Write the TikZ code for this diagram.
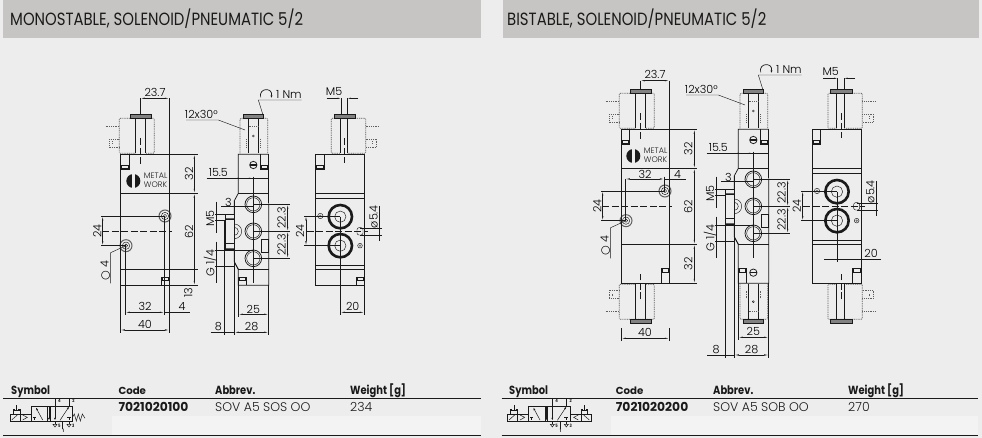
\documentclass[tikz,border=0pt]{standalone}
\usepackage{fontspec}
\setmainfont[FakeStretch=0.84]{Poppins}
\newfontfamily\futl{Poppins Light}
\newfontfamily\futw{Poppins}
\newfontfamily\dvs{DejaVu Sans}
\usetikzlibrary{arrows.meta}
\definecolor{bgc}{HTML}{EDEDED}
\definecolor{headc}{HTML}{C6C5C3}
\definecolor{bandc}{HTML}{F3F3F3}
\definecolor{ink}{HTML}{1A1A1A}
\tikzset{
 base/.style={x=1pt,y=-1pt},
 crop/.style={x=0.33333pt,y=-0.33333pt},
 body/.style={draw=ink,line width=0.75pt},
 thin line/.style={draw=ink,line width=0.45pt},
 dimarrow/.style={draw=ink,line width=0.45pt,{Latex[length=4.5pt,width=1.3pt]}-{Latex[length=4.5pt,width=1.3pt]}},
 onearrow/.style={draw=ink,line width=0.45pt,-{Latex[length=3.5pt,width=1.3pt]}},
 dotline/.style={draw=ink!70,line width=0.7pt,dash pattern=on 1pt off 0.8pt},
 chain/.style={draw=ink,line width=0.5pt,dash pattern=on 7pt off 2.5pt},
 dimtext/.style={font=\fontsize{11.2}{11}\futl,text=black,inner sep=0pt},
 headtext/.style={font=\fontsize{17.7}{18}\selectfont,text=ink,inner sep=0pt,anchor=base west},
 tabhead/.style={font=\fontsize{11.8}{12}\selectfont\bfseries,text=ink,inner sep=0pt,anchor=base west},
 codehead/.style={font=\fontsize{10.2}{11}\futw\bfseries,text=ink,inner sep=0pt,anchor=base west},
 tabcode/.style={font=\fontsize{12.3}{13}\futw\bfseries,text=ink,inner sep=0pt,anchor=base west},
 tabval/.style={font=\fontsize{12.5}{13}\futl,text=ink,inner sep=0pt,anchor=base west},
 symline/.style={draw=ink,line width=0.5pt},
 symtext/.style={font=\fontsize{4.5}{5}\selectfont\bfseries,text=ink,inner sep=0pt},
 symarrow/.style={draw=ink,line width=0.5pt,-{Latex[length=2.5pt,width=2pt]}},
}
\newcommand\notch[6]{%
 \draw[body] (#1,#3) -- (#1,#4) -- (#2,#4) -- (#2,#3);
 \fill[ink] (#1,#5) rectangle (#2,#6);
 \fill[bgc] (#1+5,#5+3) rectangle (#2-5,#6-3);}
\newcommand\solA{%
 \draw[dotline,rounded corners=1pt] (136,250) -- (88,250) -- (88,145) -- (193,145) -- (193,250) -- (166,250);
 \draw[body] (136,145) -- (136,250) (166,145) -- (166,250);
 \draw[fill=ink!55,draw=ink,line width=0.6pt] (120,133) rectangle (183,145);
 \draw[dotline] (47,168) -- (88,168);
 \draw[dotline] (88,207) -- (57,207) -- (57,232) -- (88,232);
 \draw[dotline] (66,214) -- (66,224);
 \draw[chain] (151,205) -- (151,282);}
\newcommand\solB{%
 \draw[dotline,rounded corners=1pt] (150,250) -- (150,145) -- (233,145) -- (233,250);
 \draw[body] (175,145) -- (175,250) (205,145) -- (205,250);
 \draw[fill=ink!55,draw=ink,line width=0.6pt] (160,132) rectangle (220,145);
 \draw[thin line] (190,198) circle (3);
 \draw[dotline] (170,208) -- (170,230) (212,208) -- (212,230);
 \draw[dotline] (176,170) -- (204,170);
 \draw[body] (190,285) circle (11);
 \fill[ink] (179,283) rectangle (201,287);}
\newcommand\solC{%
 \draw[dotline,rounded corners=1pt] (450,250) -- (424,250) -- (424,145) -- (527,145) -- (527,250) -- (473,250);
 \draw[body] (450,145) -- (450,250) (473,145) -- (473,250);
 \draw[fill=ink!55,draw=ink,line width=0.6pt] (432,132) rectangle (497,145);
 \draw[dotline] (527,168) -- (570,168);
 \draw[dotline] (527,207) -- (560,207) -- (560,232) -- (527,232);
 \draw[dotline] (548,214) -- (548,224);
 \draw[chain] (463,205) -- (463,280);}
\newcommand\mirrorY[1]{\begin{scope}[shift={(0,968)},yscale=-1]#1\end{scope}}
\newcommand\viewAcommon[1]{%
 \solA
 \draw[thin line] (151,#1) -- (151,133) (238,#1) -- (238,253);
 \draw[dimarrow] (151,#1) -- (238,#1);
 \node[dimtext] (a237) at (195,#1-18) {23.7};
 \fill[ink] (130,333) circle (21);
 \fill[bgc] (126.5,310) rectangle (133.5,356);
 \node[font=\fontsize{8}{8.7}\futl,text=ink,inner sep=0pt,align=left,anchor=west] (logo) at (161,331) {METAL\\WORK};
 \draw[draw=ink!70,line width=1pt] (225,438) circle (18);
 \draw[thin line] (225,438) circle (11);
 \draw[thin line] (225,438) circle (5);
 \draw[draw=ink!70,line width=1pt] (108,527) circle (18);
 \draw[thin line] (108,527) circle (11);
 \draw[thin line] (108,527) circle (5);
 \draw[chain] (37,484) -- (245,484);
 \draw[thin line] (33,438) -- (225,438) (33,527) -- (108,527);
 \draw[dimarrow] (38,438) -- (38,527);
 \node[dimtext,rotate=90] (a24) at (22,484) {24};
 \draw[thin line] (108,527) -- (62,548) -- (62,640);
 \node[dimtext,rotate=90] (a4) at (46,601) {{\dvs ○} 4};
}
\newcommand\viewBcommon{%
 \solB
 \draw[body] (236,253) -- (145,253) -- (145,370) -- (133,392) -- (133,576) -- (145,598);
 \draw[body] (236,253) -- (236,400);
 \draw[body] (145,370) -- (236,370) (145,598) -- (236,598);
 \draw[body] (190,403) circle (25) (190,484) circle (25) (190,565) circle (25);
 \draw[thin line] (190,403) circle (20) (190,484) circle (20) (190,565) circle (20);
 \draw[thin line] (133,462) arc (-90:90:22);
 \draw[thin line] (133,472) arc (-90:90:12);
 \draw[body,fill=bgc] (105,432) rectangle (133,540);
 \fill[ink] (105,445) rectangle (133,450) (105,535) rectangle (133,540);
 \draw[body] (105,520) -- (133,520) (105,432) -- (133,432);
 \draw[line width=1.3pt,draw=ink] (215,508) rectangle (235,547);
 \draw[thin line] (190,320) -- (190,640);
 \draw[thin line] (50,325) -- (235,325);
 \draw[dimarrow] (133,325) -- (190,325);
 \node[dimtext] (b155) at (85,309) {15.5};
 \draw[thin line] (93,410) -- (190,410);
 \node[dimtext] (b3) at (115,396) {3};
 \draw[thin line] (75,432) -- (133,432) (75,450) -- (105,450);
 \draw[thin line] (80,395) -- (80,490);
 \node[dimtext,rotate=90] (bm5) at (60,446) {M5};
 \draw[thin line] (75,540) -- (190,540) (75,590) -- (133,590);
 \draw[thin line] (80,515) -- (80,640);
 \node[dimtext,rotate=90] (bg14) at (60,580) {G 1/4};
 \draw[thin line] (190,403) -- (300,403) (190,484) -- (300,484) (190,565) -- (300,565);
 \draw[dimarrow] (293,403) -- (293,484);
 \draw[dimarrow] (293,484) -- (293,565);
 \node[dimtext,rotate=90] (b22a) at (275,444) {22.3};
 \node[dimtext,rotate=90] (b22b) at (275,525) {22.3};
 \draw[draw=ink,line width=0.7pt,-{Latex[length=3pt,width=2pt]}] (212,82) .. controls (205,52) and (250,52) .. (243,85);
 \node[dimtext,anchor=west] (bnm) at (258,72) {1 Nm};
 \draw[thin line] (218,132) -- (205,90) -- (335,90);
 \node[dimtext] (b12) at (34,133) {12x30°};
 \draw[thin line] (-12,150) -- (85,150) -- (165,180);
}
\newcommand\viewCcommon[2]{%
 \solC
 \draw[body] (377,385) -- (523,385) (377,585) -- (523,585);
 \draw[line width=1.2pt,draw=ink] (377,370) -- (523,370) (377,598) -- (523,598);
 \draw[line width=2.6pt,draw=ink] (451,440) circle (35) (451,527) circle (35);
 \draw[thin line] (451,440) circle (17) (451,527) circle (17);
 \draw[thin line] (391,438) circle (8) (510,527) circle (7);
 \fill[ink!60] (391,438) circle (4) (510,527) circle (4);
 \draw[thin line,rounded corners=2pt] (501,473) rectangle (519,495);
 \draw[thin line] (343,438) -- (451,438) (343,527) -- (451,527);
 \draw[dimarrow] (348,438) -- (348,527);
 \node[dimtext,rotate=90] (c24) at (330,484) {24};
 \draw[chain] (350,484) -- (535,484);
 \draw[thin line] (453,#1) -- (453,132) (472,#1) -- (472,132);
 \draw[onearrow] (410,#1) -- (453,#1);
 \draw[onearrow] (505,#1) -- (472,#1);
 \node[dimtext] (cm5) at (432,#1-22) {M5};
 \draw[thin line] (568,408) -- (568,512);
 \draw[thin line] (510,475) -- (575,475) (510,495) -- (575,495);
 \node[dimtext,rotate=90] (c54) at (551,440) {ø5.4};
}
\newcommand\symbolCore{%
 \draw[symline] (93,33) rectangle (218,78);
 \draw[symline] (143,33) -- (143,78) (150,33) -- (150,78);
 \draw[symarrow] (128,75) -- (108,38);
 \draw[symline] (98,67) -- (108,67) (103,67) -- (103,76);
 \draw[symarrow] (147,33) -- (147,76);
 \draw[symarrow] (165,33) -- (165,76);
 \draw[symarrow] (180,76) -- (207,35);
 \draw[symline] (201,67) -- (213,67) (207,67) -- (207,76);
 \draw[symline] (165,33) -- (165,12) (207,33) -- (207,12);
 \draw[symline] (165,78) -- (165,88) (188,78) -- (188,101) (207,78) -- (207,88);
 \draw[symline] (159,88) -- (171,88) -- (165,96) -- cycle (201,88) -- (213,88) -- (207,96) -- cycle;
 \node[symtext] (s4) at (178,18) {4};
 \node[symtext] (s2) at (220,18) {2};
 \node[symtext] (s5) at (178,93) {5};
 \node[symtext] (s3) at (220,93) {3};
 \node[symtext] (s1) at (190,109) {1};
}
\newcommand\symSol{%
 \draw[symline] (30,57) rectangle (93,78);
 \draw[symline] (60,57) -- (60,78);
 \draw[symline] (35,75) -- (52,60);
 \draw[symline] (68,60) -- (82,67) -- (68,75);
 \draw[symline] (40,57) -- (40,42) (60,57) -- (60,42) (40,47) -- (60,47) (40,42) -- (45,42) (55,42) -- (60,42) (50,30) -- (50,47);
}
\newcommand\panel[4]{%
 \fill[headc] (#1,0) rectangle (#2,37.6);
 \node[headtext] (title#1) at (#4,26) {#3};
}
\newcommand\tablepart[9]{%
 \fill[bandc] (#2,416) rectangle (#3,435);
 \draw[ink,line width=0.7pt] (#1,398.3) -- (#3,398.3);
 \draw[ink,line width=0.7pt] (#1,435) -- (#3,435);
 \node[tabhead] (sy#1) at (#4,394) {Symbol};
 \node[codehead] (co#1) at (#5,394) {Code};
 \node[tabhead] (ab#1) at (#6,394) {Abbrev.};
 \node[tabhead] (we#1) at (#7,394) {Weight [g]};
 \node[tabcode] (cv#1) at (#5,411.5) {#8};
 #9
}
\begin{document}
\begin{tikzpicture}[base]
\useasboundingbox (0,0) rectangle (982,438);
\fill[bgc] (0,0) rectangle (982,438);
\panel{3.3}{481}{MONOSTABLE, SOLENOID/PNEUMATIC 5/2}{10}
\panel{503}{979}{BISTABLE, SOLENOID/PNEUMATIC 5/2}{507}
\tablepart{3.3}{112}{481}{11}{118.3}{215}{350}{7021020100}{%
 \node[tabval] (av1) at (215,411.5) {SOV A5 SOS OO};
 \node[tabval] (wv1) at (350,411.5) {234};}
\tablepart{501.7}{610.7}{978}{509}{615.7}{713}{848}{7021020200}{%
 \node[tabval] (av2) at (713,411.5) {SOV A5 SOB OO};
 \node[tabval] (wv2) at (848,411.5) {270};}
\begin{scope}[shift={(0,395)},crop]
 \symSol \symbolCore
 \draw[symline] (218,66) -- (223,57) -- (229,78) -- (235,57) -- (241,78) -- (247,57) -- (255,70);
\end{scope}
\begin{scope}[shift={(497.33,395)},crop]
 \symSol \symbolCore
 \begin{scope}[shift={(311,0)},xscale=-1] \symSol \end{scope}
\end{scope}
\begin{scope}[shift={(90,70)},crop]
 \viewAcommon{85}
 \draw[body] (91,253) rectangle (238,646);
 \draw[body] (91,370) -- (238,370) (91,598) -- (238,598);
 \notch{91}{119}{253}{298}{284}{298}
 \notch{215}{238}{646}{622}{622}{633}
 \draw[thin line] (238,253) -- (325,253) (238,370) -- (325,370) (238,598) -- (325,598) (238,646) -- (325,646);
 \draw[dimarrow] (313,253) -- (313,370);
 \draw[dimarrow] (313,370) -- (313,646);
 \node[dimtext,rotate=90] (a32) at (297,312) {32};
 \node[dimtext,rotate=90] (a62) at (297,484) {62};
 \node[dimtext,rotate=90] (a13) at (295,668) {13};
 \draw[thin line] (106,527) -- (106,735) (223,438) -- (223,735);
 \draw[dimarrow] (106,727) -- (223,727);
 \draw[thin line] (223,727) -- (300,727);
 \node[dimtext] (a32b) at (165,710) {32};
 \node[dimtext] (a4b) at (276,710) {4};
 \draw[thin line] (91,646) -- (91,788) (238,646) -- (238,788);
 \draw[dimarrow] (91,780) -- (238,780);
 \node[dimtext] (a40) at (165,763) {40};
\end{scope}
\begin{scope}[shift={(190,70)},crop]
 \viewBcommon
 \draw[body] (133,576) -- (145,598) -- (145,646) -- (236,646) -- (236,400);
 \notch{212}{236}{253}{298}{284}{298}
 \notch{145}{170}{646}{622}{622}{633}
 \draw[thin line] (145,646) -- (145,740) (236,646) -- (236,795);
 \draw[dimarrow] (145,733) -- (236,733);
 \node[dimtext] (b25) at (190,717) {25};
 \draw[thin line] (133,392) -- (133,795);
 \draw[thin line] (62,787) -- (133,787);
 \draw[dimarrow] (133,787) -- (236,787);
 \draw[thin line] (103,450) -- (103,795);
 \node[dimtext] (b28) at (185,769) {28};
 \node[dimtext] (b8) at (85,769) {8};
 \viewCcommon{85}{}
 \draw[body] (377,253) rectangle (523,646);
 \notch{377}{403}{253}{298}{284}{298}
 \notch{500}{523}{646}{622}{622}{633}
 \draw[thin line] (451,440) -- (451,735) (523,646) -- (523,735);
 \draw[dimarrow] (451,727) -- (523,727);
 \node[dimtext] (c20) at (488,710) {20};
\end{scope}
\begin{scope}[shift={(590,45)},crop]
 \viewAcommon{107}
 \mirrorY{\solA}
 \draw[body] (94,253) rectangle (238,715);
 \draw[body] (94,370) -- (238,370) (94,598) -- (238,598);
 \notch{94}{119}{253}{298}{284}{298}
 \notch{215}{238}{715}{670}{670}{684}
 \draw[thin line] (238,253) -- (322,253) (238,370) -- (322,370) (238,598) -- (322,598) (238,715) -- (322,715);
 \draw[dimarrow] (313,253) -- (313,370);
 \draw[dimarrow] (313,370) -- (313,598);
 \draw[dimarrow] (313,598) -- (313,715);
 \node[dimtext,rotate=90] (d32) at (295,312) {32};
 \node[dimtext,rotate=90] (d62) at (295,484) {62};
 \node[dimtext,rotate=90] (d32c) at (295,656) {32};
 \draw[thin line] (106,402) -- (106,527) (223,395) -- (223,438);
 \draw[dimarrow] (106,402) -- (223,402);
 \draw[thin line] (223,402) -- (287,402);
 \node[dimtext] (d32b) at (165,388) {32};
 \node[dimtext] (d4b) at (263,388) {4};
 \draw[thin line] (94,850) -- (94,888) (238,850) -- (238,888);
 \draw[dimarrow] (94,880) -- (238,880);
 \node[dimtext] (d40) at (165,863) {40};
\end{scope}
\begin{scope}[shift={(690,45)},crop]
 \viewBcommon
 \mirrorY{\solB}
 \draw[body] (133,576) -- (145,598) -- (145,715) -- (236,715) -- (236,400);
 \notch{212}{236}{253}{298}{284}{298}
 \notch{145}{170}{715}{670}{670}{684}
 \draw[thin line] (145,715) -- (145,885) (236,715) -- (236,938);
 \draw[dimarrow] (145,877) -- (236,877);
 \node[dimtext] (e25) at (190,860) {25};
 \draw[thin line] (133,392) -- (133,938);
 \draw[thin line] (52,930) -- (133,930);
 \draw[dimarrow] (133,930) -- (236,930);
 \draw[thin line] (105,450) -- (105,938);
 \node[dimtext] (e28) at (185,913) {28};
 \node[dimtext] (e8) at (78,913) {8};
\end{scope}
\begin{scope}[shift={(686.67,45)},crop]
 \viewCcommon{100}{}
 \mirrorY{\solC}
 \draw[body] (377,253) rectangle (525,715);
 \notch{377}{401}{253}{298}{284}{298}
 \notch{497}{525}{715}{670}{670}{684}
 \draw[thin line] (451,440) -- (451,650);
 \draw[thin line] (412,642) -- (582,642);
 \node[dimtext] (f20) at (553,625) {20};
\end{scope}
\end{tikzpicture}
\end{document}
